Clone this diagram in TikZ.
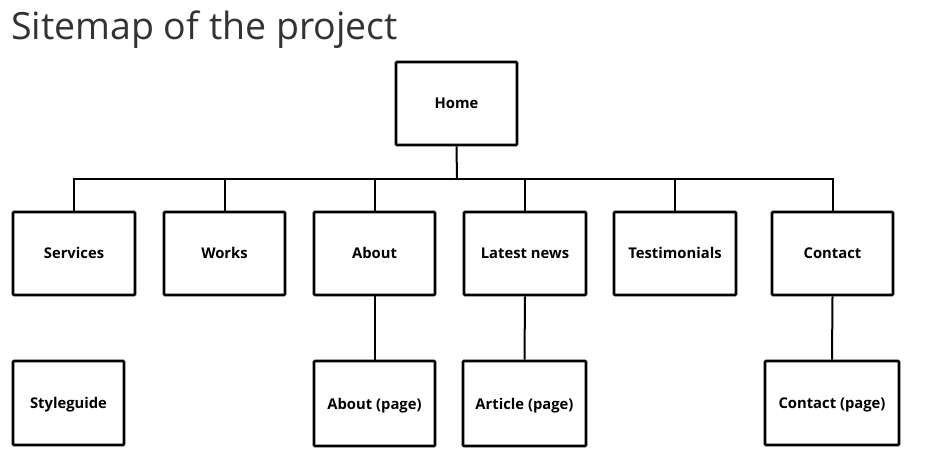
\documentclass[tikz,border=0pt]{standalone}
\usepackage{fontspec}
\usetikzlibrary{backgrounds}
\setmainfont{Open Sans}
\begin{document}
\begin{tikzpicture}[x=1pt,y=-1pt,
  box/.style={draw=black, line width=2.8pt, rounded corners=1pt, fill=white, inner sep=0pt,
    text height=11pt, text depth=0pt,
    font=\bfseries\fontsize{14.8}{17}\selectfont},
  link/.style={draw=black, line width=2pt}]
\useasboundingbox (0,0) rectangle (926,462);
\node[anchor=base west, inner sep=0pt, text=black!80, font=\fontsize{37.5}{40}\selectfont] (title) at (11,39.5) {Sitemap of the project};
\newcommand\mybox[6]{\node[box, minimum width=#4-#2, minimum height=#5-#3] (#1) at ({(#2+#4)/2},{(#3+#5)/2}) {#6};}
\mybox{home}{396}{62}{517}{145}{Home}
\mybox{serv}{13}{212}{135}{295}{Services}
\mybox{works}{164}{212}{285}{295}{Works}
\mybox{about}{314}{212}{435}{295}{About}
\mybox{news}{464}{212}{586}{295}{Latest news}
\mybox{test}{614}{212}{736}{295}{Testimonials}
\mybox{cont}{772}{212}{893}{295}{Contact}
\mybox{style}{13}{361}{124}{445}{Styleguide}
\mybox{aboutp}{314}{361}{435}{446}{About (page)}
\mybox{art}{463}{361}{586}{446}{Article (page)}
\mybox{contp}{765}{361}{899}{445}{Contact (page)}
\coordinate (bus) at (457,179);
\begin{scope}[on background layer]
\draw[link] (home.south) -- (bus);
\draw[link] (serv.north) |- (bus);
\draw[link] (cont.north) |- (bus);
\foreach \n in {works,about,news,test}{\draw[link] (\n.north) -- (\n.north |- bus);}
\draw[link] (about.south) -- (aboutp.north);
\draw[link] (news.south) -- (art.north);
\draw[link] (cont.south) -- (contp.north);
\end{scope}
\end{tikzpicture}
\end{document}
